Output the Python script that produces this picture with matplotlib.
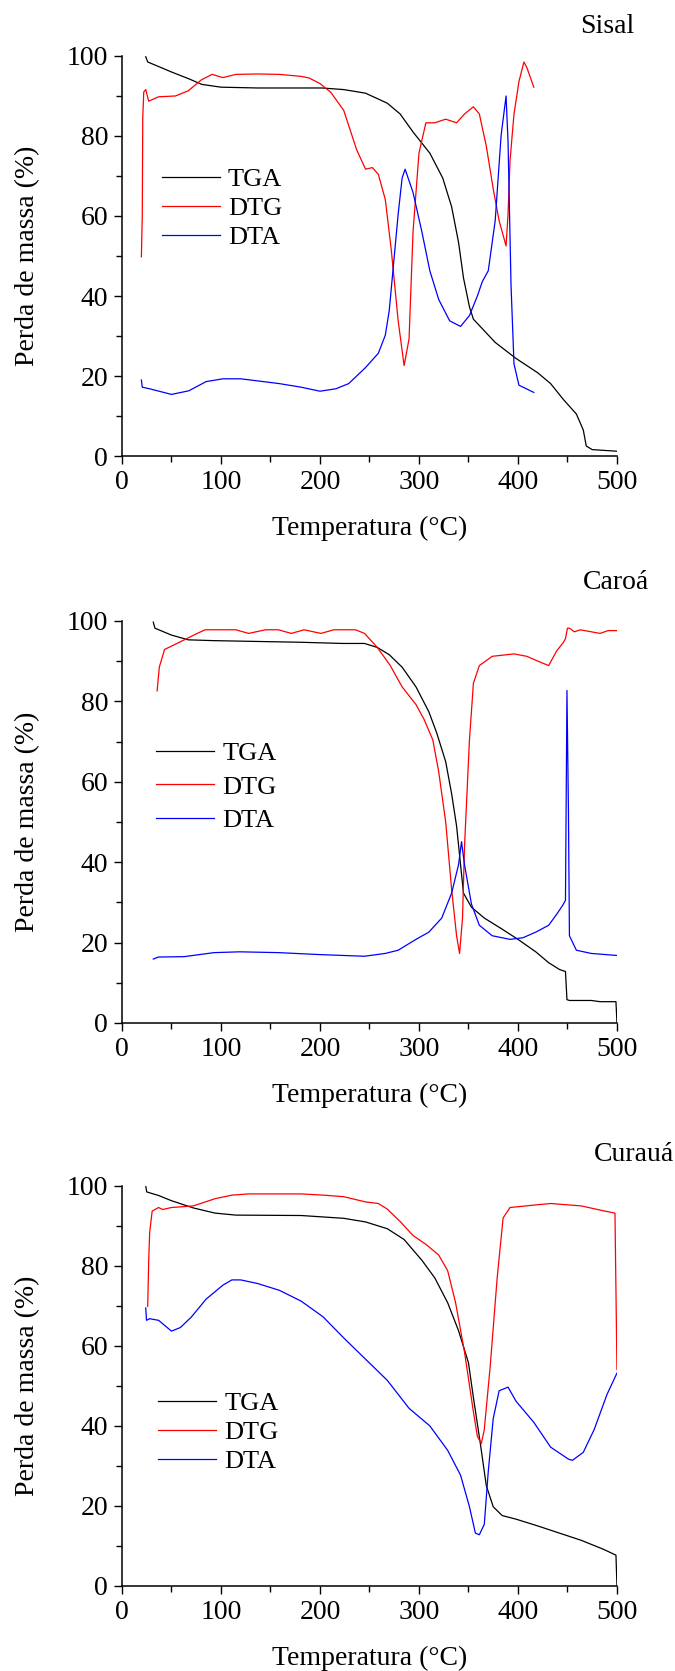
import numpy as np
import matplotlib.pyplot as plt
from matplotlib.ticker import MultipleLocator

plt.rcParams['font.family'] = ['Liberation Serif', 'DejaVu Serif']
plt.rcParams['mathtext.fontset'] = 'stix'

# ---------------- Sisal ----------------
sisal_tga_t = [24, 26, 50, 67.5, 80.6, 100, 137, 202, 224, 246, 268, 281, 294, 311, 324, 333,
               340, 345, 351, 355, 377, 398, 420, 433, 446, 459, 466, 469, 475, 500]
sisal_tga_y = [99.8, 98.5, 96, 94.3, 92.9, 92.2, 92, 92, 91.6, 90.7, 88.2, 85.5, 81, 75.7, 69.5, 62.3,
               53.4, 44.5, 37.3, 34.2, 28.4, 24.4, 20.8, 18.1, 14.1, 10.5, 6.5, 2.5, 1.6, 1.2]

sisal_dtg_t = [19.6, 20.5, 21, 22, 24, 27, 37, 54, 67, 80, 91, 102, 115, 137, 159, 181, 189, 200,
               211, 224, 237, 246, 253, 259, 266, 272, 279, 285, 290, 294, 300, 307, 316, 327, 338,
               346, 355, 361, 368, 375, 381, 388, 390, 392, 396, 401, 406, 409, 416]
sisal_dtg_y = [49.8, 60, 84.6, 91, 91.6, 88.7, 89.8, 90, 91.3, 94, 95.4, 94.6, 95.4, 95.5, 95.4, 94.9,
               94.5, 93.1, 90.9, 86.4, 76.6, 71.7, 72.1, 70.4, 64.1, 51.6, 33.8, 22.6, 29.3, 56, 75.7,
               83.3, 83.3, 84.2, 83.3, 85.5, 87.3, 85.5, 77.5, 66.8, 58.8, 52.5, 60.5, 73.9, 85.5,
               93.6, 98.5, 97.1, 92.2]

sisal_dta_t = [19.6, 20.5, 28, 50, 67.5, 85, 102, 120, 159, 181, 200, 216, 229, 246, 259, 266, 270,
               274, 279, 283, 286, 294, 303, 311, 320, 331, 342, 351, 359, 364, 370, 377, 383, 388,
               390, 393, 396, 401, 416]
sisal_dta_y = [19, 17.2, 16.8, 15.4, 16.3, 18.6, 19.3, 19.3, 18.1, 17.2, 16.2, 16.8, 18.1, 22.1, 25.7,
               30.2, 36.4, 47.1, 60.5, 69.5, 71.7, 65.9, 56, 46.3, 39.1, 33.8, 32.4, 35.1, 40, 43.6,
               46.3, 58.8, 80.2, 90, 78.4, 42.7, 23, 17.7, 15.9]

# ---------------- Caroá ----------------
caroa_tga_t = [31.6, 33.3, 49.8, 67, 93, 136, 180, 223, 245, 258, 270, 283, 297, 310, 318, 327, 333,
               338, 342, 345, 353, 366, 383, 400, 418, 431, 442, 448, 449.5, 452, 474, 483, 499, 500]
caroa_tga_y = [99.7, 98.2, 96.5, 95.3, 95.1, 94.9, 94.7, 94.4, 94.4, 93.4, 91.6, 88.5, 83.6, 77.4,
               72.1, 65, 57, 49, 39.4, 32.3, 28.8, 26.1, 23.5, 20.8, 17.7, 15, 13.3, 12.8, 5.8, 5.6,
               5.6, 5.3, 5.3, 0]

caroa_dtg_t = [35.5, 37.7, 43, 58, 76, 84, 115, 128, 145, 158, 171, 184, 201, 214, 236, 245, 258,
               271, 283, 297, 305, 314, 320, 327, 333, 338, 341, 344, 346, 351, 355, 361, 374, 396,
               409, 422, 431, 439, 446, 448, 450, 452, 457, 463, 474, 483, 491, 500]
caroa_dtg_y = [82.6, 88.5, 92.9, 94.7, 96.9, 97.8, 97.8, 96.9, 97.8, 97.8, 96.9, 97.8, 96.9, 97.8,
               97.8, 96.9, 93.4, 88.9, 83.6, 79.2, 75.6, 70.4, 62.4, 50, 33.2, 21.7, 17.3, 26.1, 43.8,
               70.4, 84.5, 88.9, 91.2, 91.8, 91.2, 89.8, 88.9, 92.5, 94.7, 95.6, 98.2, 98.2, 97.3,
               97.8, 97.3, 96.9, 97.6, 97.6]

caroa_dta_t = [31.6, 36.8, 62.8, 93, 119, 158, 201, 245, 266, 279, 297, 310, 323, 333, 340, 343, 346,
               353, 361, 374, 392, 405, 418, 431, 439, 445, 448, 449.5, 451, 452, 459, 474, 500]
caroa_dta_y = [15.9, 16.4, 16.5, 17.5, 17.7, 17.5, 17, 16.6, 17.3, 18.1, 20.8, 22.6, 26.1, 32.3,
               39.4, 45.1, 39.4, 29.6, 24.3, 21.7, 20.8, 21.2, 22.6, 24.3, 27, 29.2, 30.5, 82.7,
               52.7, 21.7, 18.1, 17.3, 16.8]

# ---------------- Curauá ----------------
curaua_tga_t = [24, 25, 37, 50, 72, 94, 115, 181, 224, 246, 268, 285, 303, 316, 329, 340, 350, 355,
                362, 368, 375, 384, 398, 420, 442, 464, 486, 499, 500]
curaua_tga_y = [100, 98.5, 97.6, 96.3, 94.5, 93.2, 92.7, 92.6, 91.9, 91, 89.3, 86.6, 81.4, 77, 70.8,
                63.8, 55.8, 47.1, 35.6, 25.1, 19.8, 17.6, 16.7, 15, 13.2, 11.4, 9.2, 7.7, 0]

curaua_dtg_t = [26, 27, 28, 30.5, 37, 41, 50, 72, 94, 111, 128, 159, 181, 203, 224, 246, 259, 268,
                281, 294, 307, 320, 329, 337, 346, 355, 359, 363, 366, 372, 379, 385, 392, 420, 433,
                464, 486, 498, 500]
curaua_dtg_y = [69.9, 81.4, 88.4, 93.7, 94.6, 94.1, 94.6, 95, 96.8, 97.7, 98, 98, 98, 97.7, 97.3, 96,
                95.6, 94.2, 91.1, 87.6, 85.4, 82.7, 78.8, 70.8, 58.5, 43.5, 37.4, 35.6, 39.1, 55, 77,
                92, 94.6, 95.3, 95.6, 95, 93.8, 93.2, 54.1]

curaua_dta_t = [24, 24.8, 28, 37, 50, 59, 70, 85, 102, 111, 120, 137, 159, 181, 203, 224, 246, 268,
                290, 311, 329, 342, 351, 357, 361, 366, 370, 375, 381, 390, 398, 416, 433, 451, 455,
                466, 477, 490, 500]
curaua_dta_y = [69.5, 66.4, 66.8, 66.4, 63.7, 64.6, 67.2, 71.7, 75.2, 76.5, 76.5, 75.6, 73.9, 71.2,
                67.3, 62, 56.7, 51.4, 44.4, 40, 33.9, 27.7, 19.8, 13.2, 12.8, 15.4, 28.6, 41.8, 48.8,
                49.7, 46.2, 40.9, 34.7, 31.7, 31.4, 33.4, 39.1, 47.9, 53.2]

panels = [
    ("Sisal", sisal_tga_t, sisal_tga_y, sisal_dtg_t, sisal_dtg_y, sisal_dta_t, sisal_dta_y),
    ("Caroá", caroa_tga_t, caroa_tga_y, caroa_dtg_t, caroa_dtg_y, caroa_dta_t, caroa_dta_y),
    ("Curauá", curaua_tga_t, curaua_tga_y, curaua_dtg_t, curaua_dtg_y, curaua_dta_t, curaua_dta_y),
]

# axes placement (figure fractions) and text placement per panel
rects = [[0.1807, 0.7271, 0.7333, 0.2394],
         [0.1807, 0.3878, 0.7333, 0.2406],
         [0.1807, 0.0509, 0.7333, 0.2394]]
title_pos = [(1.036, 1.0725), (1.065, 1.096), (1.115, 1.0775)]
legend_pos = [(0.081, 0.72), (0.069, 0.70), (0.073, 0.485)]
legend_spacing = [0.2, 0.38, 0.2]

fig = plt.figure(figsize=(6.75, 16.71), dpi=100)

for i, (name, t1, y1, t2, y2, t3, y3) in enumerate(panels):
    ax = fig.add_axes(rects[i])
    ax.plot(t1, y1, color="black", lw=0.9, label="TGA")
    ax.plot(t2, y2, color="red", lw=0.9, label="DTG")
    ax.plot(t3, y3, color="blue", lw=0.9, label="DTA")

    ax.set_xlim(0, 500)
    ax.set_ylim(0, 100)
    ax.xaxis.set_major_locator(MultipleLocator(100))
    ax.xaxis.set_minor_locator(MultipleLocator(50))
    ax.yaxis.set_major_locator(MultipleLocator(20))
    ax.yaxis.set_minor_locator(MultipleLocator(10))
    ax.tick_params(which="major", direction="out", length=6, width=1, labelsize=20, pad=4)
    ax.tick_params(which="minor", direction="out", length=4, width=1)
    ax.spines["top"].set_visible(False)
    ax.spines["right"].set_visible(False)
    for s in ["left", "bottom"]:
        ax.spines[s].set_linewidth(1.1)

    ax.set_xlabel("Temperatura (°C)", fontsize=20)
    ax.set_ylabel("Perda de massa (%)", fontsize=20)
    ax.xaxis.set_label_coords(0.5, -0.15)
    ax.yaxis.set_label_coords(-0.165, 0.5)

    ax.text(title_pos[i][0], title_pos[i][1], name, transform=ax.transAxes,
            ha="right", va="center", fontsize=20, clip_on=False)

    ax.legend(loc="upper left", bbox_to_anchor=legend_pos[i], frameon=False, fontsize=19,
              handlelength=2.2, handletextpad=0.3, labelspacing=legend_spacing[i],
              borderpad=0, borderaxespad=0)

fig.savefig("out.png", dpi=100)
